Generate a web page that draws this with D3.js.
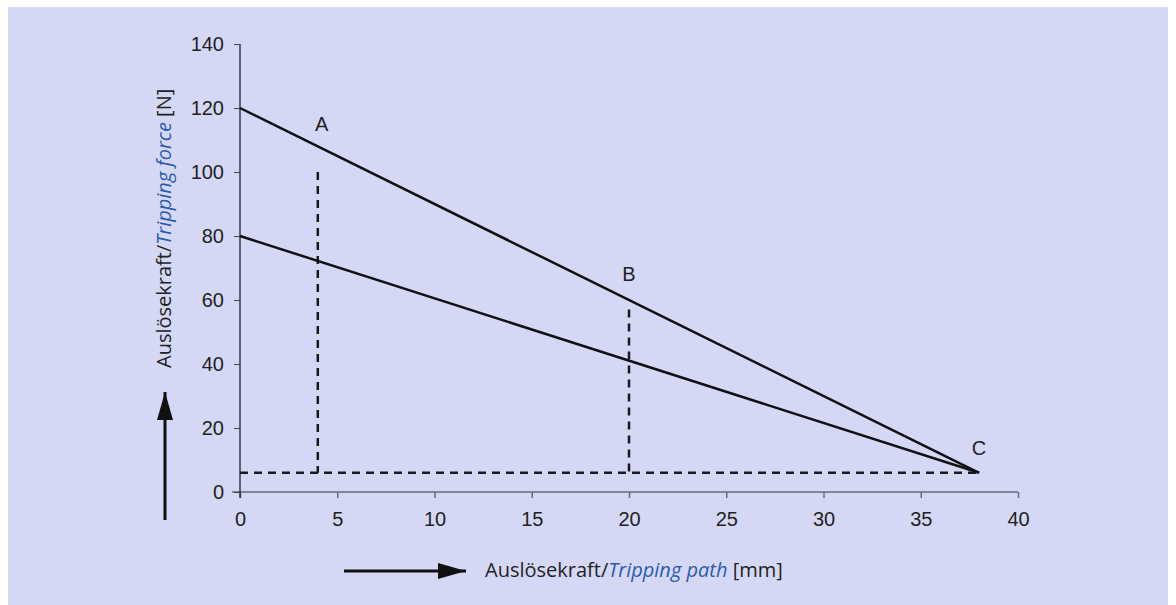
<!DOCTYPE html>
<html>
<head>
<meta charset="utf-8">
<script src="https://cdn.jsdelivr.net/npm/d3@7.9.0/dist/d3.min.js"></script>
<style>
  html, body { margin: 0; padding: 0; background: #fff; }
  svg { display: block; }
</style>
</head>
<body>
<svg id="chart" width="1176" height="605"></svg>
<script>
// data
const xTicks = [0, 5, 10, 15, 20, 25, 30, 35, 40];
const yTicks = [0, 20, 40, 60, 80, 100, 120, 140];
const lineA = [[0, 120], [38, 6]];
const lineB = [[0, 80], [38, 6]];
const dashed = [
  [[4, 100], [4, 6]],
  [[20, 57], [20, 6]],
  [[0, 6], [38, 6]],
];
const pointLabels = [
  { text: 'A', x: 4.2, y: 112.8 },
  { text: 'B', x: 20.0, y: 66 },
  { text: 'C', x: 38.0, y: 11.5 },
];

const svg = d3.select('#chart');
const width = 1176, height = 605;

svg.append('rect')
  .attr('x', 8).attr('y', 7)
  .attr('width', width - 16).attr('height', height - 7)
  .attr('fill', '#d5d8f5');

const margin = { left: 240, right: 158, top: 44, bottom: 113 };
const xScale = d3.scaleLinear().domain([0, 40]).range([margin.left, width - margin.right]);
const yScale = d3.scaleLinear().domain([0, 140]).range([height - margin.bottom, margin.top]);

const tickFont = '"Liberation Sans", Arial, sans-serif';

// x axis
const xAxis = svg.append('g')
  .attr('transform', `translate(0, ${yScale(0)})`)
  .call(d3.axisBottom(xScale).tickValues(xTicks).tickSizeOuter(0).tickSize(6).tickPadding(14));
xAxis.select('.domain').attr('stroke', '#6a6a7a').attr('stroke-width', 1.5)
  .attr('d', `M${xScale(0) - 8},0H${xScale(40)}`);
xAxis.selectAll('.tick line').attr('stroke', '#6a6a7a').attr('stroke-width', 1.5);
xAxis.selectAll('.tick text').attr('font-family', tickFont).attr('font-size', 20).attr('fill', '#222');

// y axis
const yAxis = svg.append('g')
  .attr('transform', `translate(${xScale(0)}, 0)`)
  .call(d3.axisLeft(yScale).tickValues(yTicks).tickSizeOuter(0).tickSize(6).tickPadding(10));
yAxis.select('.domain').attr('stroke', '#222').attr('stroke-width', 1.3)
  .attr('d', `M0,${yScale(140)}V${yScale(0) + 6}`);
yAxis.selectAll('.tick line').attr('stroke', '#444');
yAxis.selectAll('.tick text').attr('font-family', tickFont).attr('font-size', 20)
  .attr('fill', '#222').attr('dy', '0.3em');

const line = d3.line().x(d => xScale(d[0])).y(d => yScale(d[1]));

svg.selectAll('.dash')
  .data(dashed)
  .join('path')
  .attr('d', line)
  .attr('fill', 'none')
  .attr('stroke', '#1a1a1a')
  .attr('stroke-width', 2.5)
  .attr('stroke-dasharray', '8,6');

svg.selectAll('.solid')
  .data([lineA, lineB])
  .join('path')
  .attr('d', line)
  .attr('fill', 'none')
  .attr('stroke', '#111')
  .attr('stroke-width', 2.5);

svg.selectAll('.plabel')
  .data(pointLabels)
  .join('text')
  .attr('x', d => xScale(d.x))
  .attr('y', d => yScale(d.y))
  .attr('text-anchor', 'middle')
  .attr('font-family', tickFont)
  .attr('font-size', 20)
  .attr('fill', '#222')
  .text(d => d.text);

// axis titles
const titleFont = '"Open Sans", "Noto Sans", sans-serif';
const xt = svg.append('text')
  .attr('x', 485).attr('y', 577)
  .attr('font-family', titleFont).attr('font-size', 20).attr('fill', '#222');
xt.append('tspan').text('Auslösekraft/');
xt.append('tspan').attr('font-style', 'italic').attr('fill', '#2a5cab').text('Tripping path');
xt.append('tspan').text(' [mm]');

const yt = svg.append('text')
  .attr('transform', 'translate(171, 368) rotate(-90)')
  .attr('font-family', titleFont).attr('font-size', 20).attr('fill', '#222');
yt.append('tspan').text('Auslösekraft/');
yt.append('tspan').attr('font-style', 'italic').attr('fill', '#2a5cab').text('Tripping force');
yt.append('tspan').text(' [N]');

// arrows
svg.append('defs').append('marker')
  .attr('id', 'head')
  .attr('viewBox', '0 0 28 16')
  .attr('refX', 28).attr('refY', 8)
  .attr('markerWidth', 28).attr('markerHeight', 16)
  .attr('markerUnits', 'userSpaceOnUse')
  .attr('orient', 'auto')
  .append('path').attr('d', 'M0,0L28,8L0,16Z').attr('fill', '#111');

svg.append('line')
  .attr('x1', 344).attr('y1', 571).attr('x2', 466).attr('y2', 571)
  .attr('stroke', '#111').attr('stroke-width', 3)
  .attr('marker-end', 'url(#head)');
svg.append('line')
  .attr('x1', 165).attr('y1', 520).attr('x2', 165).attr('y2', 392)
  .attr('stroke', '#111').attr('stroke-width', 3)
  .attr('marker-end', 'url(#head)');
</script>
</body>
</html>
